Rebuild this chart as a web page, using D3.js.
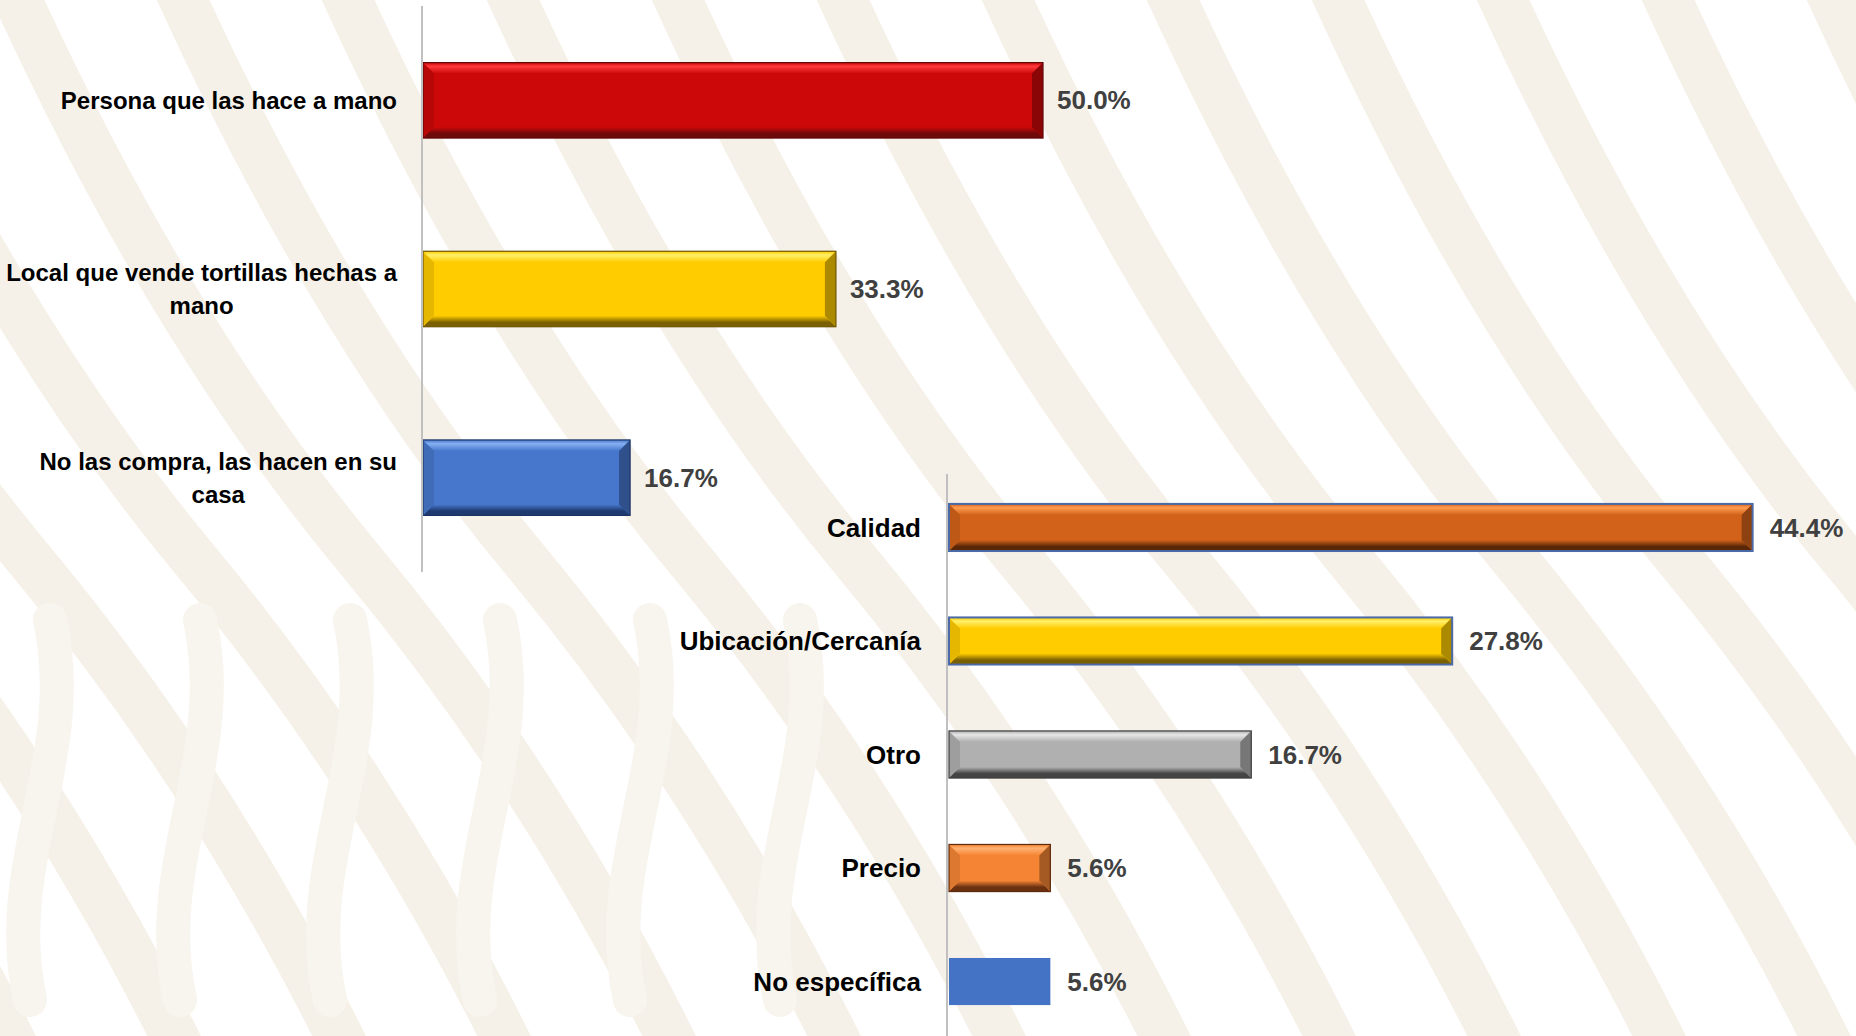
<!DOCTYPE html>
<html>
<head>
<meta charset="utf-8">
<script src="https://cdn.jsdelivr.net/npm/d3@7"></script>
<style>
  html, body { margin: 0; padding: 0; background: #ffffff; overflow: hidden; }
  text { font-family: "Liberation Sans", Arial, sans-serif; font-weight: bold; }
</style>
</head>
<body>
<div id="chart"></div>
<script>
// Top chart: where tortillas are bought
var topCategories = ["Persona que las hace a mano", "Local que vende tortillas hechas a|mano", "No las compra, las hacen en su|casa"];
var topValues = [50.0, 33.3, 16.7];

// Bottom chart: reasons
var bottomCategories = ["Calidad", "Ubicación/Cercanía", "Otro", "Precio", "No específica"];
var bottomValues = [44.4, 27.8, 16.7, 5.6, 5.6];

// bar colours: base, light, dark
var topColors = [
    ["#cc0808", "#ff3a3a", "#6e0a0a"],
    ["#ffcc00", "#fff06a", "#7a6000"],
    ["#4677cc", "#86b0f2", "#1f3a70"]
];
var bottomColors = [
    ["#d2621a", "#ff9c50", "#5a2608"],
    ["#ffcc00", "#fff06a", "#7a6000"],
    ["#b0b0b0", "#e6e6e6", "#444444"],
    ["#f58535", "#ffb070", "#6a3010"],
    ["#4472c4", null, null]
];
var bottomStroke = ["#4a6aa8", "#4a6aa8", null, null, null];

var width = 1856, height = 1036;

var svg = d3.select("#chart")
    .append("svg")
    .attr("width", width)
    .attr("height", height);

var defs = svg.append("defs");

// Background watermark-ish stripes
var bg = svg.append("g").attr("fill", "none").attr("stroke", "#f6f1e8")
    .attr("stroke-linecap", "round").attr("stroke-width", 48);
for (var i = -5; i < 14; i++) {
    var sx = i * 165;
    bg.append("path")
        .attr("d", "M" + sx + ",-40 Q" + (sx + 160) + ",320 " + (sx + 360) + ",560 T" + (sx + 700) + ",1100");
}
var bg2 = svg.append("g").attr("fill", "none").attr("stroke", "#f8f4ee")
    .attr("stroke-linecap", "round").attr("stroke-width", 34);
for (var j = 0; j < 6; j++) {
    var cx = 30 + j * 150;
    bg2.append("path")
        .attr("d", "M" + cx + ",1000 C" + (cx - 30) + ",860 " + (cx + 50) + ",760 " + (cx + 20) + ",620");
}

function gradient(id, stops) {
    var g = defs.append("linearGradient").attr("id", id)
        .attr("x1", 0).attr("y1", 0).attr("x2", 0).attr("y2", 1);
    stops.forEach(function (s) {
        g.append("stop").attr("offset", s[0]).attr("stop-color", s[1]);
    });
    return "url(#" + id + ")";
}

// draws a bevelled bar
function drawBar(g, id, x0, x1, y0, y1, col, stroke) {
    var b = 11;
    if (col[1] === null) {
        g.append("rect").attr("x", x0).attr("y", y0)
            .attr("width", x1 - x0).attr("height", y1 - y0)
            .attr("fill", col[0]);
        return;
    }
    var bb = Math.min(b, (x1 - x0) / 2);
    g.append("rect").attr("x", x0).attr("y", y0)
        .attr("width", x1 - x0).attr("height", y1 - y0)
        .attr("fill", col[0]);
    var topFill = gradient(id + "t", [[0, col[0]], [0.35, col[1]], [1, col[0]]]);
    var botFill = gradient(id + "b", [[0, col[0]], [0.6, col[2]], [1, col[2]]]);
    g.append("polygon")
        .attr("points", [[x0, y0], [x1, y0], [x1 - bb, y0 + b], [x0 + bb, y0 + b]].join(" "))
        .attr("fill", topFill);
    g.append("polygon")
        .attr("points", [[x0, y1], [x1, y1], [x1 - bb, y1 - b], [x0 + bb, y1 - b]].join(" "))
        .attr("fill", botFill);
    g.append("polygon")
        .attr("points", [[x0, y0 + 1], [x0 + bb, y0 + b], [x0 + bb, y1 - b], [x0, y1 - 1]].join(" "))
        .attr("fill", d3.color(col[0]).darker(0.3));
    g.append("polygon")
        .attr("points", [[x1, y0], [x1 - bb, y0 + b], [x1 - bb, y1 - b], [x1, y1]].join(" "))
        .attr("fill", d3.color(col[0]).darker(1.1));
    g.append("rect").attr("x", x0).attr("y", y0)
        .attr("width", x1 - x0).attr("height", y1 - y0)
        .attr("fill", "none")
        .attr("stroke", stroke || d3.color(col[2]).darker(0.3))
        .attr("stroke-width", stroke ? 2 : 1.2);
}

// ----- Top chart -----
var xTop = d3.scaleLinear().domain([0, 50]).range([423, 1043]);
var yTop = d3.scaleBand().domain(topCategories).range([6, 572])
    .paddingInner(0.6).paddingOuter(0.3);

var gTop = svg.append("g");
topCategories.forEach(function (c, i) {
    drawBar(gTop, "tb" + i, xTop(0), xTop(topValues[i]), yTop(c), yTop(c) + yTop.bandwidth(), topColors[i]);
});

gTop.append("line")
    .attr("x1", xTop(0) - 1).attr("x2", xTop(0) - 1)
    .attr("y1", yTop.range()[0]).attr("y2", yTop.range()[1])
    .attr("stroke", "#c0c0c0").attr("stroke-width", 2);

topCategories.forEach(function (c, i) {
    var lines = c.split("|");
    var cy = yTop(c) + yTop.bandwidth() / 2;
    var lh = 33;
    var t = gTop.append("text").attr("font-size", 24).attr("fill", "#000")
        .attr("text-anchor", "middle");
    lines.forEach(function (l, k) {
        t.append("tspan").attr("y", cy + (k - (lines.length - 1) / 2) * lh)
            .attr("dy", "0.35em").text(l);
    });
    var w = 0;
    t.selectAll("tspan").each(function () { w = Math.max(w, this.getComputedTextLength()); });
    t.selectAll("tspan").attr("x", 397 - w / 2);

    gTop.append("text")
        .attr("x", xTop(topValues[i]) + 14)
        .attr("y", cy).attr("dy", "0.35em")
        .attr("font-size", 26).attr("fill", "#404040")
        .text(topValues[i].toFixed(1) + "%");
});

// ----- Bottom chart -----
var xBot = d3.scaleLinear().domain([0, 50]).range([949, 1854]);
var yBot = d3.scaleBand().domain(bottomCategories).range([471, 1038])
    .paddingInner(0.585).paddingOuter(0.29);

var gBot = svg.append("g");
bottomCategories.forEach(function (c, i) {
    drawBar(gBot, "bb" + i, xBot(0), xBot(bottomValues[i]), yBot(c), yBot(c) + yBot.bandwidth(), bottomColors[i], bottomStroke[i]);
});

gBot.append("line")
    .attr("x1", xBot(0) - 2).attr("x2", xBot(0) - 2)
    .attr("y1", 474).attr("y2", height)
    .attr("stroke", "#c0c0c0").attr("stroke-width", 2);

bottomCategories.forEach(function (c, i) {
    var cy = yBot(c) + yBot.bandwidth() / 2;
    gBot.append("text")
        .attr("x", 921).attr("y", cy).attr("dy", "0.35em")
        .attr("text-anchor", "end")
        .attr("font-size", 26).attr("fill", "#000")
        .text(c);
    gBot.append("text")
        .attr("x", xBot(bottomValues[i]) + 17)
        .attr("y", cy).attr("dy", "0.35em")
        .attr("font-size", 26).attr("fill", "#404040")
        .text(bottomValues[i].toFixed(1) + "%");
});
</script>
</body>
</html>
